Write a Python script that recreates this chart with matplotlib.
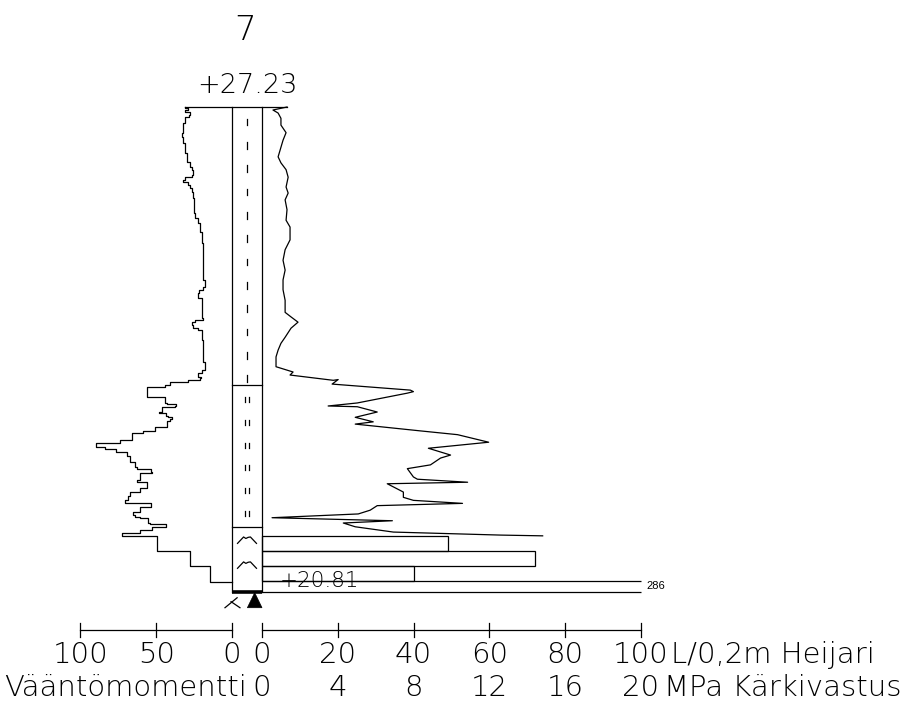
import matplotlib
matplotlib.use("Agg")
import matplotlib.pyplot as plt
import numpy as np
from matplotlib.patches import Polygon

# --- sounding data -------------------------------------------------------
point_id = "7"
top_level = 27.23
bottom_level = 20.81

# Cone resistance, MPa, against depth below the top level (m)
cpt_depth = [0.00, 0.04, 0.08, 0.15, 0.24, 0.34, 0.44, 0.66, 0.74, 0.83,
             0.93, 1.06, 1.14, 1.23, 1.36, 1.50, 1.59, 1.76, 1.89, 2.03,
             2.16, 2.29, 2.42, 2.56, 2.72, 2.78, 2.85, 2.93, 3.05, 3.13,
             3.22, 3.31, 3.44, 3.51, 3.55, 3.62, 3.61, 3.67, 3.75, 3.77,
             3.79, 3.92, 3.96, 3.97, 4.04, 4.11, 4.17, 4.20, 4.29, 4.34,
             4.44, 4.52, 4.61, 4.65, 4.74, 4.79, 4.90, 4.93, 4.97, 4.99,
             5.10, 5.17, 5.21, 5.25, 5.28, 5.34, 5.39, 5.44, 5.48, 5.51,
             5.56, 5.63, 5.67, 5.68]
cpt_mpa = [1.32, 0.58, 0.85, 1.00, 1.00, 1.27, 1.11, 0.85, 1.00, 1.27,
           1.38, 1.27, 1.38, 1.22, 1.32, 1.27, 1.48, 1.48, 1.22, 1.11,
           1.22, 1.11, 1.11, 1.22, 1.22, 1.53, 1.90, 1.53, 1.22, 1.00,
           0.85, 0.74, 0.74, 1.64, 1.48, 3.76, 4.02, 3.70, 7.83, 7.99,
           7.67, 5.03, 3.49, 5.03, 6.08, 4.92, 5.87, 4.92, 8.36, 10.32,
           11.96, 8.78, 9.95, 9.42, 8.89, 7.67, 7.99, 8.20, 10.85, 6.61,
           7.46, 7.46, 7.99, 10.58, 6.08, 5.71, 5.08, 0.53, 6.88, 4.29,
           4.92, 6.93, 12.59, 14.81]

# Rotation torque, Nm, against depth (m)
torque_depth = [0.00, 0.01, 0.04, 0.07, 0.11, 0.13, 0.20, 0.21, 0.28, 0.34,
                0.40, 0.48, 0.61, 0.73, 0.79, 0.83, 0.90, 0.93, 0.97, 0.99,
                1.03, 1.07, 1.13, 1.21, 1.40, 1.47, 1.54, 1.66, 1.80, 1.93,
                2.16, 2.29, 2.38, 2.42, 2.46, 2.53, 2.79, 2.82, 2.85, 2.89,
                2.93, 2.95, 3.09, 3.26, 3.38, 3.48, 3.52, 3.58, 3.59, 3.62,
                3.64, 3.68, 3.71, 3.84, 3.84, 3.92, 3.93, 3.96, 3.97, 4.04,
                4.05, 4.09, 4.11, 4.13, 4.16, 4.24, 4.24, 4.29, 4.32, 4.41,
                4.45, 4.48, 4.50, 4.53, 4.57, 4.62, 4.66, 4.70, 4.77, 4.79,
                4.83, 4.85, 4.94, 4.97, 5.03, 5.05, 5.10, 5.15, 5.21, 5.25,
                5.25, 5.28, 5.30, 5.36, 5.40, 5.43, 5.44, 5.51, 5.52, 5.56,
                5.56, 5.60, 5.64, 5.68, 5.68, 5.88, 5.88, 6.08, 6.08, 6.29,
                6.29]
torque_nm = [31.1, 29.1, 31.1, 27.8, 28.5, 31.1, 31.1, 32.5, 32.5, 33.1,
             32.5, 31.1, 29.8, 27.8, 26.5, 25.8, 26.5, 31.1, 32.5, 29.1,
             27.8, 26.5, 25.8, 25.2, 24.5, 22.5, 21.2, 19.9, 19.2, 19.2,
             19.2, 17.9, 19.2, 21.9, 22.5, 19.9, 19.2, 24.5, 26.5, 25.8,
             22.5, 19.9, 19.2, 19.2, 17.9, 19.9, 22.5, 20.5, 21.2, 29.1,
             41.1, 44.4, 56.3, 56.3, 44.4, 43.0, 37.1, 37.7, 46.4, 48.3,
             43.7, 42.4, 39.7, 41.1, 43.0, 43.0, 51.0, 58.9, 66.2, 74.2,
             89.4, 89.4, 84.1, 76.2, 69.5, 67.5, 67.5, 64.2, 62.9, 53.6,
             53.0, 60.9, 62.9, 56.3, 56.3, 60.9, 67.5, 68.9, 70.9, 70.9,
             53.6, 53.6, 60.9, 65.6, 64.2, 60.9, 55.6, 54.3, 43.7, 44.4,
             53.0, 60.9, 72.8, 72.8, 49.7, 49.7, 27.8, 27.8, 14.6, 14.6,
             0.0]

# Dynamic probing, blows per 0.2 m
blow_top = [5.68, 5.88, 6.08, 6.28]
blow_bottom = [5.88, 6.08, 6.28, 6.42]
blows = [49, 72, 40, 286]

# Soil layers in the column
layer_top = [0.00, 3.68, 5.56]
layer_bottom = [3.68, 5.56, 6.42]
layer_kind = ["clay", "silt", "till"]

# Scales
torque_ticks = [100, 50, 0]
heijari_ticks = [0, 20, 40, 60, 80, 100]
mpa_ticks = [0, 4, 8, 12, 16, 20]

# --- layout --------------------------------------------------------------
PX_X = 3.79      # pixels per blow unit
PX_Y = 75.5      # pixels per metre
COL_W = 30 / PX_X
TORQUE_K = 0.4   # plot units per Nm
MPA_K = 5.0      # plot units per MPa
LW = 0.9

FONT = dict(family="DejaVu Sans", fontweight="light", color="black")


def lev(d):
    return top_level - np.asarray(d, dtype=float)


def tq_x(t):
    return -COL_W - TORQUE_K * np.asarray(t, dtype=float)


def cpt_x(q):
    return MPA_K * np.asarray(q, dtype=float)


fig = plt.figure(figsize=(9.18, 7.02), dpi=100)
ax = fig.add_axes([0, 0, 1, 1])
ax.set_xlim(-262 / PX_X, (918 - 262) / PX_X)
ax.set_ylim(top_level - (702 - 107) / PX_Y, top_level + 107 / PX_Y)
ax.axis("off")

# --- column --------------------------------------------------------------
col_l, col_r, col_c = -COL_W, 0.0, -COL_W / 2
ax.plot([col_l, col_l], [top_level, bottom_level], color="black", lw=LW)
ax.plot([col_r, col_r], [top_level, bottom_level], color="black", lw=LW)
for b in layer_bottom[:-1]:
    ax.plot([col_l, col_r], [lev(b)] * 2, color="black", lw=LW)
ax.plot([col_l, col_r], [bottom_level] * 2, color="black", lw=2.6,
        solid_capstyle="butt")

for t0, t1, kind in zip(layer_top, layer_bottom, layer_kind):
    if kind == "clay":
        d = t0 + 0.20
        while d < t1 - 0.05:
            ax.plot([col_c, col_c], [lev(d - 0.045), lev(d + 0.045)],
                    color="black", lw=LW)
            d += 0.309
    elif kind == "silt":
        d = t0 + 0.20
        while d < t1 - 0.05:
            for off in (-0.45, 0.45):
                ax.plot([col_c + off] * 2, [lev(d - 0.033), lev(d + 0.033)],
                        color="black", lw=LW)
            d += 0.30
    elif kind == "till":
        d = t0 + 0.175
        while d < t1 - 0.2:
            sx = np.array([-2.5, -0.9, -0.3, 0.3, 0.9, 2.5]) + col_c
            sy = np.array([-0.045, 0.04, 0.02, 0.035, 0.04, -0.045]) + lev(d)
            ax.plot(sx, sy, color="black", lw=LW)
            d += 0.33

# --- torque and cone resistance curves ------------------------------------
ax.plot(tq_x(torque_nm), lev(torque_depth), color="black", lw=LW,
        drawstyle="steps-pre")
ax.plot(cpt_x(cpt_mpa), lev(cpt_depth), color="black", lw=LW)
ax.plot([tq_x(torque_nm[0]), cpt_x(cpt_mpa[0])], [top_level] * 2,
        color="black", lw=LW)

# --- dynamic probing bars -------------------------------------------------
for d0, d1, n in zip(blow_top, blow_bottom, blows):
    if n <= 100:
        ax.barh(lev(d1), n, height=d1 - d0, left=0, align="edge",
                fill=False, edgecolor="black", lw=LW)
    else:
        ax.hlines([lev(d0), lev(d1)], 0, 100, color="black", lw=LW)
        ax.text(101.5, lev((d0 + d1) / 2), str(n), ha="left", va="center",
                fontsize=8, family="Liberation Sans")

# --- end-of-sounding marks ------------------------------------------------
tri_l = col_c + 0.1
ax.add_patch(Polygon([[(tri_l + col_r) / 2, bottom_level - 0.013],
                      [tri_l, bottom_level - 0.212],
                      [col_r, bottom_level - 0.212]],
                     closed=True, facecolor="black", edgecolor="black",
                     lw=0.5))
ax.plot([col_l - 1.85, col_l + 1.35],
        [bottom_level - 0.212, bottom_level - 0.08], color="black", lw=LW)
ax.plot([col_l - 0.25, col_l + 2.1],
        [bottom_level - 0.132, bottom_level - 0.212], color="black", lw=LW)

# --- titles and levels ----------------------------------------------------
ax.text(col_c - 0.4, top_level + 0.887, point_id, ha="center",
        va="baseline", fontsize=24.5, **FONT)
ax.text(col_c, top_level + 0.185, f"+{top_level:.2f}", ha="center",
        va="baseline", fontsize=19.5, **FONT)
ax.text(4.75, bottom_level + 0.066, f"+{bottom_level:.2f}", ha="left",
        va="baseline", fontsize=15.5, **FONT)

# --- scales ---------------------------------------------------------------
axis_z = bottom_level - 0.503
tick = 0.093
row1 = bottom_level - 0.94
row2 = bottom_level - 1.377
FS = 21

ax.plot([tq_x(max(torque_ticks)), tq_x(min(torque_ticks))], [axis_z] * 2,
        color="black", lw=LW)
for t in torque_ticks:
    ax.plot([tq_x(t)] * 2, [axis_z - tick, axis_z + tick], color="black",
            lw=LW)
    ax.text(tq_x(t), row1, str(t), ha="center", va="baseline",
            fontsize=FS, **FONT)

ax.plot([heijari_ticks[0], heijari_ticks[-1]], [axis_z] * 2,
        color="black", lw=LW)
for h in heijari_ticks:
    ax.plot([h, h], [axis_z - tick, axis_z + tick], color="black", lw=LW)
    ax.text(h, row1, str(h), ha="center", va="baseline", fontsize=FS, **FONT)
for q in mpa_ticks:
    ax.text(cpt_x(q), row2, str(q), ha="center", va="baseline",
            fontsize=FS, **FONT)

ax.text(heijari_ticks[-1] + 7.9, row1, "L/0,2m Heijari", ha="left",
        va="baseline", fontsize=FS, **FONT)
ax.text(cpt_x(mpa_ticks[-1]) + 6.1, row2, "MPa Kärkivastus", ha="left",
        va="baseline", fontsize=FS, **FONT)
ax.text(col_c, row2, "Vääntömomentti", ha="right", va="baseline",
        fontsize=FS, **FONT)

fig.savefig("out.png", dpi=100)
